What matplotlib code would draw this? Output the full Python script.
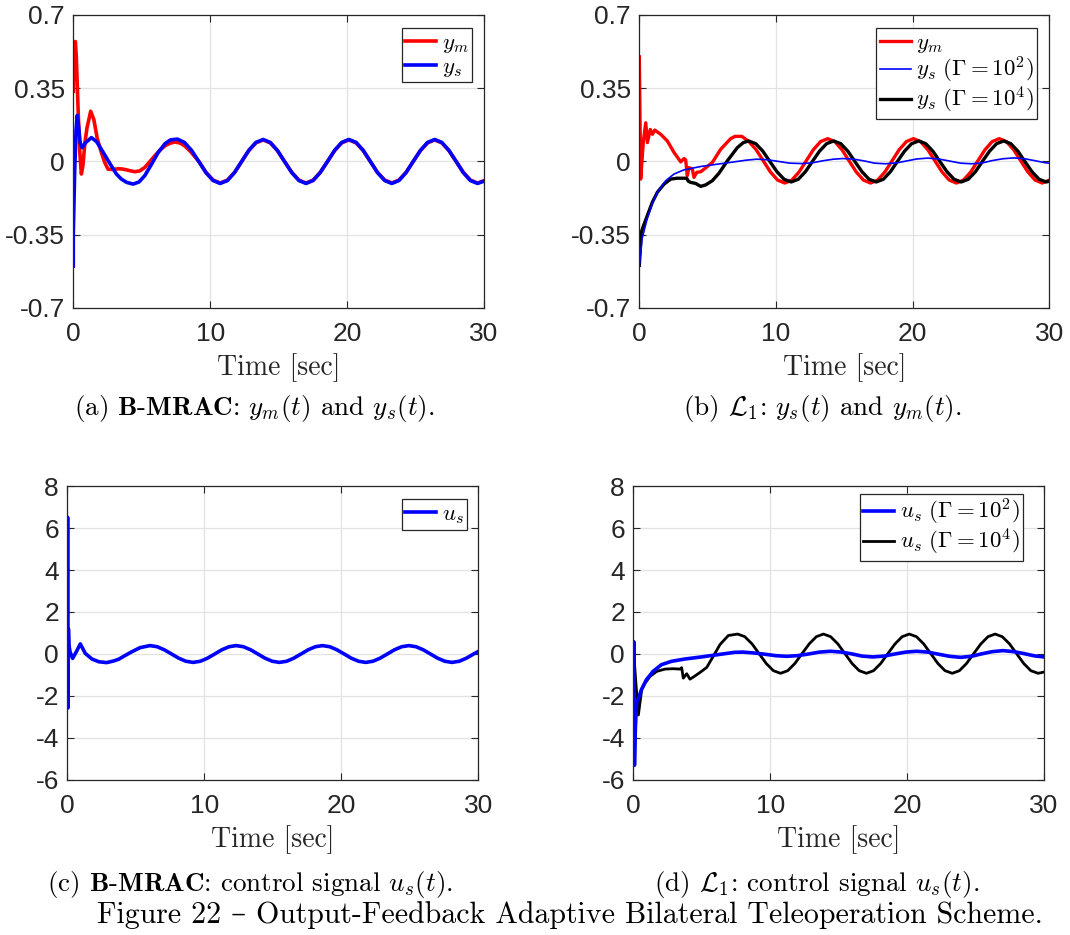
import matplotlib
matplotlib.use("Agg")
import matplotlib.pyplot as plt

plt.rcParams['font.family'] = ['Liberation Sans', 'DejaVu Sans']
plt.rcParams['mathtext.fontset'] = 'cm'
plt.rcParams['axes.unicode_minus'] = False

# ---------------- (a) B-MRAC: y_m, y_s ----------------
t_a_ys = [0.0, 0.0, 0.1, 0.2, 0.29, 0.4, 0.5, 0.64, 0.9, 1.32, 1.7, 2.05, 2.4, 2.78,
          3.15, 3.51, 3.9, 4.37, 4.8, 5.22, 5.7, 6.2, 6.7, 7.1,
          7.60, 8.12, 8.64, 9.17, 9.69, 10.21, 10.73, 11.26, 11.78, 12.30, 12.82, 13.34,
          13.87, 14.39, 14.91, 15.43, 15.96, 16.48, 17.00, 17.52, 18.04, 18.57, 19.09, 19.61,
          20.13, 20.66, 21.18, 21.70, 22.22, 22.75, 23.27, 23.79, 24.31, 24.83, 25.36, 25.88,
          26.40, 26.92, 27.44, 27.97, 28.49, 29.01, 29.53, 30.0]
ys_a = [-0.50, -0.35, -0.05, 0.15, 0.22, 0.16, 0.09, 0.066, 0.09, 0.114, 0.095, 0.058, 0.02, -0.021,
        -0.06, -0.084, -0.10, -0.108, -0.098, -0.068, -0.015, 0.043, 0.085, 0.103,
        0.107, 0.091, 0.053, 0.0, -0.053, -0.091, -0.105, -0.091, -0.053, 0.0, 0.053, 0.091,
        0.105, 0.091, 0.053, 0.0, -0.053, -0.091, -0.105, -0.091, -0.053, 0.0, 0.053, 0.091,
        0.105, 0.091, 0.053, 0.0, -0.053, -0.091, -0.105, -0.091, -0.053, 0.0, 0.053, 0.091,
        0.105, 0.091, 0.053, 0.0, -0.053, -0.091, -0.105, -0.094]
t_a_ym = [0.0, 0.03, 0.15, 0.22, 0.35, 0.47, 0.59, 0.7, 0.85, 1.0, 1.27, 1.5, 1.75, 2.05, 2.3,
          2.54, 2.9, 3.27, 3.6, 3.88, 4.2, 4.49, 4.85, 5.22, 5.6, 5.95, 6.3, 6.68, 7.05, 7.42,
          7.8, 8.15, 8.6,
          9.17, 9.69, 10.21, 10.73, 11.26, 11.78, 12.30, 12.82, 13.34,
          13.87, 14.39, 14.91, 15.43, 15.96, 16.48, 17.00, 17.52, 18.04, 18.57, 19.09, 19.61,
          20.13, 20.66, 21.18, 21.70, 22.22, 22.75, 23.27, 23.79, 24.31, 24.83, 25.36, 25.88,
          26.40, 26.92, 27.44, 27.97, 28.49, 29.01, 29.53, 30.0]
ym_a = [0.335, 0.45, 0.573, 0.50, 0.25, 0.05, -0.06, -0.02, 0.09, 0.16, 0.24, 0.20, 0.11, 0.043, -0.005,
        -0.037, -0.038, -0.035, -0.036, -0.04, -0.045, -0.049, -0.045, -0.029, 0.0, 0.027, 0.052, 0.074, 0.087, 0.093,
        0.088, 0.074, 0.045,
        0.0, -0.052, -0.089, -0.103, -0.089, -0.052, 0.0, 0.052, 0.089,
        0.103, 0.089, 0.052, 0.0, -0.052, -0.089, -0.103, -0.089, -0.052, 0.0, 0.052, 0.089,
        0.103, 0.089, 0.052, 0.0, -0.052, -0.089, -0.103, -0.089, -0.052, 0.0, 0.052, 0.089,
        0.103, 0.089, 0.052, 0.0, -0.052, -0.089, -0.103, -0.092]

# ---------------- (b) L1: y_m, y_s ----------------
t_b_ym = [0.0, 0.1, 0.3, 0.47, 0.59, 0.8, 0.96, 1.13, 1.56, 2.05, 2.54, 3.03, 3.27, 3.39, 3.51,
          3.63, 3.88, 4.0, 4.2, 4.49, 4.73, 5.34, 5.95, 6.68, 7.0,
          7.5, 8.02, 8.55, 9.07, 9.59, 10.12, 10.64, 11.16, 11.69, 12.21, 12.73, 13.26,
          13.78, 14.30, 14.83, 15.35, 15.87, 16.40, 16.92, 17.44, 17.97, 18.49, 19.01, 19.54,
          20.06, 20.58, 21.11, 21.63, 22.15, 22.68, 23.20, 23.72, 24.25, 24.77, 25.29, 25.82,
          26.34, 26.86, 27.39, 27.91, 28.43, 28.96, 29.48, 30.0]
ym_b = [0.50, -0.084, 0.10, 0.185, 0.09, 0.153, 0.13, 0.15, 0.13, 0.098, 0.043, -0.002, 0.014, 0.008, -0.068,
        -0.029, -0.037, -0.076, -0.052, -0.049, -0.037, -0.005, 0.058, 0.109, 0.12,
        0.12, 0.095, 0.056, 0.003, -0.050, -0.089, -0.103, -0.089, -0.050, 0.003, 0.056, 0.095,
        0.109, 0.095, 0.056, 0.003, -0.050, -0.089, -0.103, -0.089, -0.050, 0.003, 0.056, 0.095,
        0.109, 0.095, 0.056, 0.003, -0.050, -0.089, -0.103, -0.089, -0.050, 0.003, 0.056, 0.095,
        0.109, 0.095, 0.056, 0.003, -0.050, -0.089, -0.103, -0.089]
t_b_ys2 = [0.0, 0.2, 0.59, 0.95, 1.32, 1.93, 2.54, 3.27, 4.49, 5.71, 6.93, 7.8, 8.6, 9.4,
           10.2, 11.0, 11.9, 12.7, 13.4, 14.2, 14.9, 15.7, 16.5, 17.2, 18.0, 18.8, 19.6,
           20.3, 21.1, 21.9, 22.7, 23.5, 24.3, 25.1, 25.8, 26.6, 27.4, 28.2, 29.0, 29.7, 30.0]
ys2_b = [-0.50, -0.369, -0.27, -0.20, -0.147, -0.092, -0.06, -0.04, -0.024, -0.013, -0.002, 0.006, 0.011, 0.008,
         0.0, -0.008, -0.010, -0.006, 0.003, 0.011, 0.014, 0.011, 0.002, -0.008, -0.011, -0.007, 0.003,
         0.012, 0.016, 0.012, 0.002, -0.008, -0.011, -0.007, 0.004, 0.013, 0.017, 0.013, 0.003, -0.006, -0.008]
t_b_ys4 = [0.0, 0.15, 0.29, 0.59, 0.95, 1.32, 1.81, 2.3, 2.78, 3.2, 3.46, 3.6, 3.76, 4.12, 4.49,
           4.85, 5.34, 5.83, 6.44, 7.17, 7.6,
           8.0, 8.52, 9.04, 9.55, 10.07, 10.59, 11.11, 11.63, 12.15, 12.66, 13.18, 13.70,
           14.22, 14.74, 15.26, 15.77, 16.29, 16.81, 17.33, 17.85, 18.37, 18.88, 19.40, 19.92,
           20.44, 20.96, 21.48, 21.99, 22.51, 23.03, 23.55, 24.07, 24.59, 25.10, 25.62, 26.14,
           26.66, 27.18, 27.70, 28.21, 28.73, 29.25, 29.77, 30.0]
ys4_b = [-0.496, -0.337, -0.31, -0.258, -0.195, -0.147, -0.108, -0.084, -0.08, -0.08, -0.08, -0.095, -0.10, -0.105, -0.119,
         -0.112, -0.092, -0.056, 0.003, 0.066, 0.09,
         0.098, 0.085, 0.049, 0.0, -0.049, -0.085, -0.098, -0.085, -0.049, 0.0, 0.049, 0.085,
         0.098, 0.085, 0.049, 0.0, -0.049, -0.085, -0.098, -0.085, -0.049, 0.0, 0.049, 0.085,
         0.098, 0.085, 0.049, 0.0, -0.049, -0.085, -0.098, -0.085, -0.049, 0.0, 0.049, 0.085,
         0.098, 0.085, 0.049, 0.0, -0.049, -0.085, -0.098, -0.094]

# ---------------- (c) B-MRAC: u_s ----------------
t_c = [0.0, 0.02, 0.05, 0.08, 0.12, 0.2, 0.39, 0.66, 0.95, 1.31, 1.8, 2.3, 2.87, 3.4, 3.75, 4.2, 4.72, 5.3,
       6.03, 6.56, 7.08, 7.61, 8.13, 8.66, 9.18, 9.71, 10.23, 10.76, 11.28, 11.81,
       12.33, 12.86, 13.38, 13.91, 14.43, 14.96, 15.48, 16.01, 16.53, 17.06, 17.58, 18.11,
       18.63, 19.16, 19.68, 20.21, 20.73, 21.26, 21.78, 22.31, 22.83, 23.36, 23.88, 24.41,
       24.93, 25.46, 25.98, 26.51, 27.03, 27.56, 28.08, 28.61, 29.13, 29.66, 30.0]
us_c = [0.0, 6.51, -2.57, 1.2, 0.43, 0.1, -0.21, 0.11, 0.48, 0.03, -0.24, -0.37, -0.41, -0.33, -0.25, -0.08, 0.11, 0.30,
        0.40, 0.346, 0.20, 0.0, -0.20, -0.346, -0.40, -0.346, -0.20, 0.0, 0.20, 0.346,
        0.40, 0.346, 0.20, 0.0, -0.20, -0.346, -0.40, -0.346, -0.20, 0.0, 0.20, 0.346,
        0.40, 0.346, 0.20, 0.0, -0.20, -0.346, -0.40, -0.346, -0.20, 0.0, 0.20, 0.346,
        0.40, 0.346, 0.20, 0.0, -0.20, -0.346, -0.40, -0.346, -0.20, 0.0, 0.12]

# ---------------- (d) L1: u_s ----------------
t_d_us2 = [0.0, 0.03, 0.08, 0.15, 0.24, 0.34, 0.59, 0.95, 1.44, 2.05, 2.78, 3.75, 4.97, 6.19, 7.4,
           8.0, 8.8, 9.6, 10.4, 11.2, 12.0, 12.8, 13.6, 14.4, 15.2, 16.0, 16.7, 17.5, 18.3, 19.1,
           19.9, 20.7, 21.5, 22.3, 23.1, 23.9, 24.7, 25.4, 26.2, 27.0, 27.8, 28.6, 29.3, 30.0]
us2_d = [0.0, 0.55, -5.3, -3.5, -2.3, -2.18, -1.7, -1.23, -0.83, -0.51, -0.35, -0.24, -0.14, -0.03, 0.08,
         0.09, 0.05, -0.01, -0.08, -0.11, -0.08, 0.0, 0.09, 0.13, 0.09, 0.0, -0.10, -0.14, -0.10, 0.0,
         0.09, 0.13, 0.09, -0.01, -0.11, -0.16, -0.11, 0.0, 0.11, 0.16, 0.11, 0.01, -0.09, -0.14]
t_d_us4 = [0.0, 0.05, 0.1, 0.2, 0.37, 0.61, 0.85, 1.22, 1.7, 2.31, 2.92, 3.41, 3.53, 3.65, 3.9,
           4.14, 4.38, 4.87, 5.36, 5.84, 6.33, 6.94,
           7.62, 8.14, 8.67, 9.19, 9.71, 10.23, 10.76, 11.28, 11.80, 12.32, 12.85, 13.37,
           13.89, 14.41, 14.94, 15.46, 15.98, 16.50, 17.03, 17.55, 18.07, 18.59, 19.12, 19.64,
           20.16, 20.68, 21.21, 21.73, 22.25, 22.77, 23.30, 23.82, 24.34, 24.86, 25.39, 25.91,
           26.43, 26.95, 27.48, 28.00, 28.52, 29.04, 29.57, 30.0]
us4_d = [0.0, 0.6, -0.6, -1.5, -2.9, -1.7, -1.39, -1.07, -0.83, -0.72, -0.70, -0.72, -0.65, -1.15, -0.94,
         -1.2, -1.1, -0.88, -0.64, -0.11, 0.45, 0.88,
         0.95, 0.825, 0.483, 0.015, -0.453, -0.795, -0.92, -0.795, -0.453, 0.015, 0.483, 0.825,
         0.95, 0.825, 0.483, 0.015, -0.453, -0.795, -0.92, -0.795, -0.453, 0.015, 0.483, 0.825,
         0.95, 0.825, 0.483, 0.015, -0.453, -0.795, -0.92, -0.795, -0.453, 0.015, 0.483, 0.825,
         0.95, 0.825, 0.483, 0.015, -0.453, -0.795, -0.92, -0.86]

x_ticks = [0, 10, 20, 30]
y_ticks_top = [-0.7, -0.35, 0, 0.35, 0.7]
y_labels_top = ['-0.7', '-0.35', '0', '0.35', '0.7']
y_ticks_bot = [-6, -4, -2, 0, 2, 4, 6, 8]

RED, BLUE, BLACK = '#ff0000', '#0000ff', '#000000'
EDGE = '#262626'
SERIF = ['cmr10', 'DejaVu Serif']


def style_axes(ax, yticks, ylabels, ylim):
    ax.set_xlim(0, 30)
    ax.set_ylim(*ylim)
    ax.set_xticks(x_ticks)
    ax.set_yticks(yticks)
    ax.set_yticklabels(ylabels)
    ax.tick_params(direction='in', top=True, right=True, length=5, width=0.8,
                   colors=EDGE, labelsize=19)
    ax.tick_params(axis='x', pad=10)
    ax.tick_params(axis='y', pad=6)
    for s in ax.spines.values():
        s.set_color(EDGE)
        s.set_linewidth(0.9)
    ax.grid(True, color='#e2e2e2', linewidth=0.9)
    ax.set_axisbelow(True)
    ax.set_xlabel('Time [sec]', fontfamily=SERIF, fontsize=20, color=EDGE, labelpad=5)


def legend(ax, handles, anchor):
    leg = ax.legend(handles=handles, loc='upper right', bbox_to_anchor=anchor,
                    borderaxespad=0, fontsize=16.5, handlelength=1.35, handletextpad=0.25,
                    borderpad=0.14, labelspacing=0.0, fancybox=False, framealpha=1)
    leg.get_frame().set_edgecolor(EDGE)
    leg.get_frame().set_linewidth(0.9)


fig = plt.figure(figsize=(10.7, 9.35), dpi=100)

ax_a = fig.add_axes([0.0685, 0.6706, 0.3838, 0.3134])
ax_b = fig.add_axes([0.5975, 0.6706, 0.3832, 0.3134])
ax_c = fig.add_axes([0.0629, 0.1658, 0.3841, 0.3144])
ax_d = fig.add_axes([0.5919, 0.1658, 0.3838, 0.3144])

# (a)
l1, = ax_a.plot(t_a_ym, ym_a, color=RED, lw=2.6, label=r'$y_m$')
l2, = ax_a.plot(t_a_ys, ys_a, color=BLUE, lw=2.6, label=r'$y_s$')
style_axes(ax_a, y_ticks_top, y_labels_top, (-0.7, 0.7))
legend(ax_a, [l1, l2], (0.970, 0.957))

# (b)
l1, = ax_b.plot(t_b_ym, ym_b, color=RED, lw=2.4, label=r'$y_m$')
l3, = ax_b.plot(t_b_ys4, ys4_b, color=BLACK, lw=2.4, label=r'$y_s\ (\Gamma = 10^4)$')
l2, = ax_b.plot(t_b_ys2, ys2_b, color=BLUE, lw=1.2, label=r'$y_s\ (\Gamma = 10^2)$')
style_axes(ax_b, y_ticks_top, y_labels_top, (-0.7, 0.7))
legend(ax_b, [l1, l2, l3], (0.971, 0.957))

# (c)
l1, = ax_c.plot(t_c, us_c, color=BLUE, lw=2.6, label=r'$u_s$')
style_axes(ax_c, y_ticks_bot, [str(v) for v in y_ticks_bot], (-6, 8))
legend(ax_c, [l1], (0.972, 0.955))

# (d)
l2, = ax_d.plot(t_d_us4, us4_d, color=BLACK, lw=2.0, label=r'$u_s\ (\Gamma = 10^4)$')
l1, = ax_d.plot(t_d_us2, us2_d, color=BLUE, lw=2.6, label=r'$u_s\ (\Gamma = 10^2)$')
style_axes(ax_d, y_ticks_bot, [str(v) for v in y_ticks_bot], (-6, 8))
legend(ax_d, [l1, l2], (0.948, 0.974))

# captions
cap = dict(fontfamily=SERIF, fontsize=19.5, ha='center', va='center', color='black')
fig.text(0.2374, 0.5636, r'(a) $\mathbf{B}$-$\mathbf{MRAC}$: $y_m(t)$ and $y_s(t)$.', **cap)
fig.text(0.7682, 0.5636, r'(b) $\mathcal{L}_1$: $y_s(t)$ and $y_m(t)$.', **cap)
fig.text(0.2336, 0.0535, r'(c) $\mathbf{B}$-$\mathbf{MRAC}$: control signal $u_s(t)$.', **cap)
fig.text(0.7636, 0.0535, r'(d) $\mathcal{L}_1$: control signal $u_s(t)$.', **cap)
fig.text(0.533, 0.0214, 'Figure 22 \u2013 Output-Feedback Adaptive Bilateral Teleoperation Scheme.',
         fontfamily=SERIF, fontsize=21.5, ha='center', va='center', color='black')

fig.savefig('out.png', dpi=100)
